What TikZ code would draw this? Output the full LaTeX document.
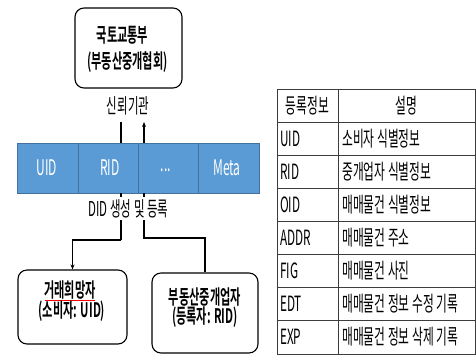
\documentclass[tikz,border=0pt]{standalone}
\usepackage{fontspec}
\setmainfont{Noto Sans CJK KR}[FakeStretch=0.56,BoldFont={Noto Sans CJK KR Bold},BoldFeatures={FakeStretch=0.56}]
\usetikzlibrary{arrows.meta}
\definecolor{barblue}{RGB}{91,155,213}
\definecolor{bardark}{RGB}{65,113,156}
\definecolor{tabline}{RGB}{60,60,60}
\begin{document}
\begin{tikzpicture}[x=1pt,y=-1pt,
  rbox/.style={draw=black,line width=1.1pt,rounded corners=9pt},
  btxt/.style={font=\fontsize{20}{22}\selectfont\bfseries,inner sep=0pt},
  ltxt/.style={font=\fontsize{20.5}{22}\selectfont,inner sep=1pt},
  bartxt/.style={font=\fontsize{21.5}{23}\selectfont,text=white,inner sep=0pt},
  ttxt/.style={font=\fontsize{21}{23}\selectfont,inner sep=0pt,anchor=west},
  htxt/.style={font=\fontsize{21}{23}\selectfont,inner sep=0pt},
  conn/.style={draw=black,line width=1.1pt},
  tip/.style={-{Stealth[length=5pt,width=4pt]}}
]
\useasboundingbox (0,0) rectangle (476,357);
\fill[white] (0,0) rectangle (476,357);

% top box
\node[rbox,minimum width=107pt,minimum height=80pt] (top) at (128.5,48) {};
\node[btxt] (top1) at (122.5,35) {국토교통부};
\node[btxt] (top2) at (127.5,62) {(부동산중개협회)};
\node[ltxt] (trust) at (128,106) {신뢰기관};

% bar
\node[fill=barblue,draw=bardark,line width=0.6pt,minimum width=242pt,minimum height=50pt,inner sep=0pt] (bar) at (138,168) {};
\draw[bardark,line width=0.7pt] (78,143) -- (78,193) (138,143) -- (138,193) (198,143) -- (198,193);
\node[bartxt] (b1) at (47,168) {UID};
\node[bartxt] (b2) at (110,168) {RID};
\node[bartxt] (b3) at (166,170) {...};
\node[bartxt] (b4) at (227,168) {Meta};

% connectors at trust
\coordinate (ua) at (121,122);
\coordinate (ub) at (144,122);
\draw[conn] (ua) -- (ua |- bar.north);
\draw[conn,tip] (ub |- bar.north) -- (ub);

% lower connectors
\coordinate (la) at (121,193);
\coordinate (lb) at (144,193);
\coordinate (ka) at (121,240);
\coordinate (kb) at (144,238);

% bottom boxes
\node[rbox,minimum width=109pt,minimum height=74pt] (lbox) at (72.5,307) {};
\node[btxt] (l1) at (70,290) {거래희망자};
\draw[red,line width=0.7pt] (45,300.5) -- (95,300.5);
\node[btxt] (l2) at (72,311) {(소비자: UID)};
\node[rbox,minimum width=106pt,minimum height=80pt] (rbox) at (205,313) {};
\node[btxt] (r1) at (205,297) {부동산중개업자};
\node[btxt] (r2) at (205,317) {(등록자: RID)};

\draw[conn] (la) -- (ka);
\draw[conn,tip] (ka) -| (lbox.north);
\draw[conn] (lb) -- (kb) -| (rbox.north);
\node[ltxt,fill=white,minimum height=23pt,minimum width=90pt] (did) at (128.5,208.5) {DID 생성 및 등록};

% table
\draw[tabline,line width=0.8pt] (277,89) rectangle (475,354);
\draw[tabline,line width=0.8pt] (338,89) -- (338,354);
\foreach \i in {1,...,7} {
  \draw[tabline,line width=0.8pt] (277,89+33.125*\i) -- (475,89+33.125*\i);
}
\node[htxt] (h1) at (307.5,106) {등록정보};
\node[htxt] (h2) at (406.5,106) {설명};
\node[ttxt] (c1) at (280,139) {UID};
\node[ttxt] (d1) at (342,139) {소비자 식별정보};
\node[ttxt] (c2) at (280,172) {RID};
\node[ttxt] (d2) at (342,172) {중개업자 식별정보};
\node[ttxt] (c3) at (280,205) {OID};
\node[ttxt] (d3) at (342,205) {매매물건 식별정보};
\node[ttxt] (c4) at (280,238) {ADDR};
\node[ttxt] (d4) at (342,238) {매매물건 주소};
\node[ttxt] (c5) at (280,271) {FIG};
\node[ttxt] (d5) at (342,271) {매매물건 사진};
\node[ttxt] (c6) at (280,304) {EDT};
\node[ttxt] (d6) at (342,304) {매매물건 정보 수정 기록};
\node[ttxt] (c7) at (280,337) {EXP};
\node[ttxt] (d7) at (342,337) {매매물건 정보 삭제 기록};
\end{tikzpicture}
\end{document}
